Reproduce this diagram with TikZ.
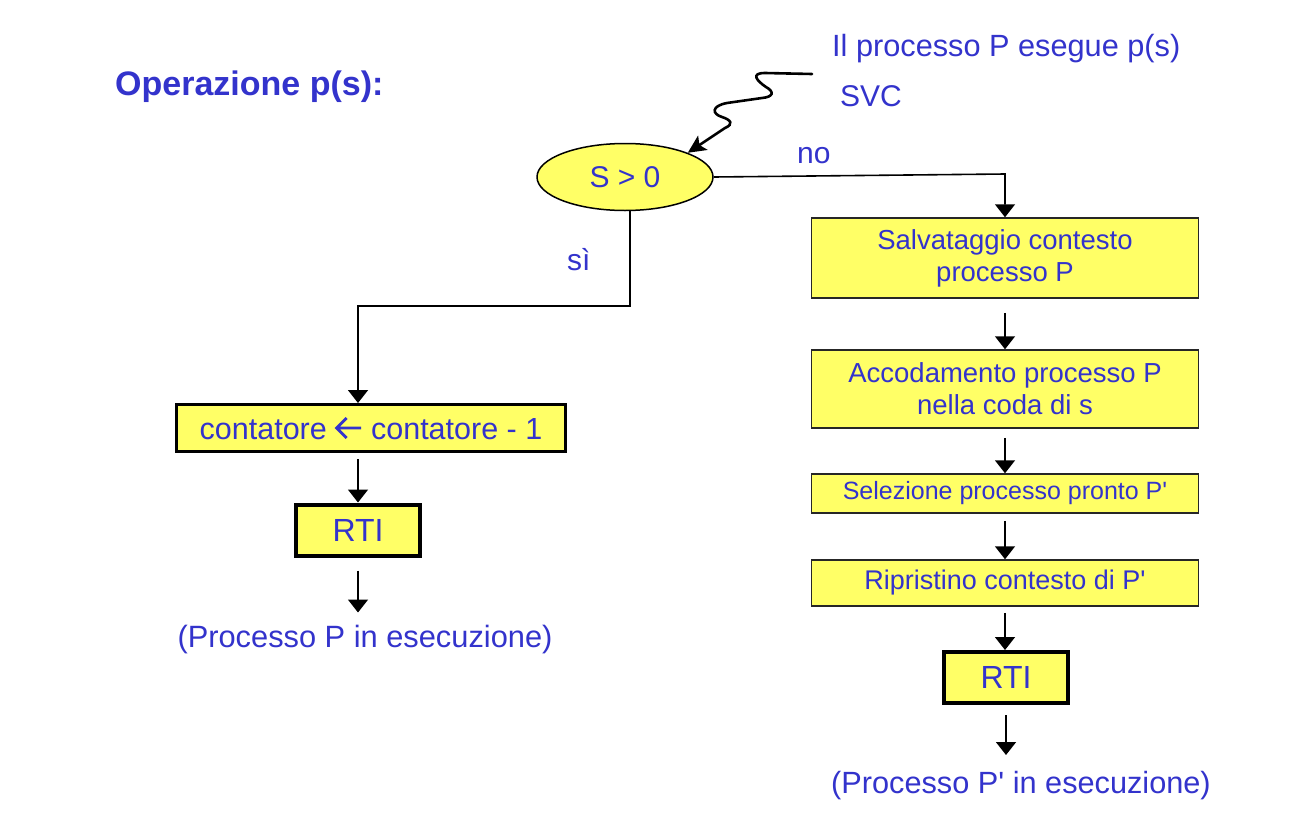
\documentclass[tikz,border=0pt]{standalone}
\usepackage{fontspec}
\setmainfont{Liberation Sans}[Ligatures=TeXOff]
\usetikzlibrary{arrows.meta,shapes.geometric}
\definecolor{txtblue}{RGB}{51,51,204}
\definecolor{boxyellow}{RGB}{255,255,102}
\newcommand{\leftarr}{\tikz[baseline=-11pt]{\draw[txtblue,line width=2.8pt,line join=miter]
  (25pt,0pt) -- (1pt,0pt) (10.5pt,10pt) -- (0.5pt,0pt) -- (10.5pt,-10pt);}}
\begin{document}
\begin{tikzpicture}[x=1pt,y=-1pt,
  lbl/.style={text=txtblue,font=\fontsize{30}{36}\selectfont,inner sep=0pt},
  proc/.style={draw=black!85,line width=1.5pt,fill=boxyellow,minimum width=387pt,
    text=txtblue,align=center,font=\fontsize{27.5}{32}\selectfont,inner sep=0pt},
  rtibox/.style={draw=black,line width=4pt,fill=boxyellow,minimum width=124pt,minimum height=51pt,
    text=txtblue,font=\fontsize{32}{38}\selectfont,inner sep=0pt},
  decision/.style={ellipse,draw=black,line width=1.5pt,fill=boxyellow,minimum width=176pt,
    minimum height=67pt,inner sep=0pt,text=txtblue,font=\fontsize{30}{36}\selectfont},
  arr/.style={line width=1.6pt,-{Triangle[length=13pt,width=20pt]}}
]
\useasboundingbox[fill=white] (0,0) rectangle (1292,822);

% title and labels
\node[lbl,anchor=base west,font=\bfseries\fontsize{34}{40}\selectfont] (title) at (115,95) {Operazione p(s):};
\node[lbl,anchor=base west,font=\fontsize{30.7}{36}\selectfont] (esegue) at (832,56) {Il processo P esegue p(s)};
\node[lbl,anchor=base west] (svc) at (840,106) {SVC};
\node[lbl,anchor=base west] (no) at (797,163) {no};
\node[lbl,anchor=base west] (si) at (567,270) {sì};

% decision
\node[decision] (ell) at (625,177) {S > 0};

% wavy arrow
\coordinate (ws) at (812,74);
\draw[line width=2.6pt,line cap=round,-{Stealth[length=18pt,width=17pt,inset=4pt]}] (ws) -- (765,73)
  .. controls (750,73) and (757,81) .. (766,87)
  .. controls (775,92) and (773,97) .. (762,98)
  -- (727,103)
  .. controls (711,106) and (712,114) .. (722,117)
  .. controls (731,120) and (734,124) .. (725,128)
  -- (ell.north east);

% left branch
\node[draw=black,line width=3pt,fill=boxyellow,minimum width=389pt,minimum height=47pt,
  text=txtblue,font=\fontsize{30.5}{36}\selectfont,inner sep=0pt] (cont) at (371,428)
  {contatore \leftarr\ contatore - 1};
\node[rtibox] (rti1) at (358,530) {RTI};
\node[lbl,anchor=base,font=\fontsize{30.8}{36}\selectfont] (out1) at (365,647) {(Processo P in esecuzione)};

\draw[arr] ([xshift=5pt]ell.south) -- ++(0,95) -| ([xshift=-13pt]cont.north);
\draw[arr,shorten <=6pt] ([xshift=-13pt]cont.south) -- (rti1.north);
\draw[arr,shorten <=13pt] (rti1.south) -- ++(0,55);

% right branch
\node[proc,minimum height=80pt] (b1) at (1005,258) {Salvataggio contesto\\processo P};
\node[proc,minimum height=78pt] (b2) at (1005,389) {Accodamento processo P\\nella coda di s};
\node[proc,minimum height=39pt,font=\fontsize{25}{30}\selectfont] (b3) at (1005,493.5) {Selezione processo pronto P'};
\node[proc,minimum height=46pt,font=\fontsize{27}{32}\selectfont] (b4) at (1005,583) {Ripristino contesto di P'};
\node[rtibox] (rti2) at (1006,677.5) {RTI};
\node[lbl,anchor=base,font=\fontsize{30.7}{36}\selectfont] (out2) at (1021,793) {(Processo P' in esecuzione)};

\draw[arr] (ell.east) -- (1005,174) -- (b1.north);
\draw[arr,shorten <=14pt] (b1.south) -- (b2.north);
\draw[arr,shorten <=9pt] (b2.south) -- (b3.north);
\draw[arr,shorten <=7pt] (b3.south) -- (b4.north);
\draw[arr,shorten <=6pt] (b4.south) -- ([xshift=-1pt]rti2.north);
\draw[arr,shorten <=10pt] (rti2.south) -- ++(0,50);
\end{tikzpicture}
\end{document}
